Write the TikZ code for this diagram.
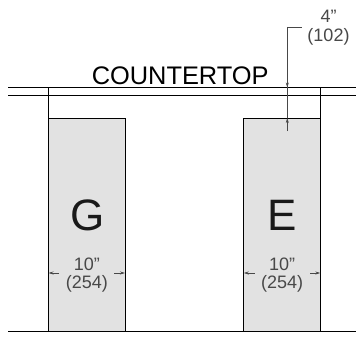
\documentclass[tikz,border=0pt]{standalone}
\usepackage{fontspec}
\setmainfont{Liberation Sans}
\usetikzlibrary{arrows.meta}
\definecolor{boxfill}{HTML}{E2E2E2}
\definecolor{dimink}{HTML}{484848}
\newcommand{\inchmark}{{\char34}}
\tikzset{
  heavy/.style={draw=black,line width=1.2pt},
  cabinet/.style={draw=black,line width=0.9pt,fill=boxfill,minimum width=76.5pt,minimum height=213.5pt,inner sep=0pt,outer sep=0pt,anchor=north west},
  dimline/.style={draw=dimink,line width=0.7pt},
  dimarrow/.style={draw=dimink,line width=0.7pt,-{Stealth[length=5pt,width=3pt]}},
  dimtext/.style={text=dimink,font=\fontsize{18}{18}\selectfont,align=center,inner sep=0pt},
  letter/.style={font=\fontsize{44}{44}\selectfont,text=black!90,inner sep=0pt},
}
\begin{document}
\begin{tikzpicture}[x=1pt,y=-1pt]
\useasboundingbox[fill=white] (0,0) rectangle (356,361);
\node[cabinet] (g) at (48.5,118) {};
\node[cabinet] (e) at (243.8,118) {};
\coordinate (tl) at (8,87.5);
\coordinate (tr) at (356,87.5);
\coordinate (ml) at (8,95);
\coordinate (mr) at (356,95);
\coordinate (bl) at (8,331.7);
\coordinate (br) at (356,331.7);
\draw[heavy] (tl) -- (tr);
\draw[heavy,line width=0.9pt] (ml) -- (mr);
\draw[heavy] (bl) -- (br);
\draw[heavy,line width=0.9pt] (g.north west |- tl) -- (g.north west);
\draw[heavy,line width=0.9pt] (e.north east |- tl) -- (e.north east);
\node[font=\fontsize{25.4}{25}\selectfont,anchor=base,inner sep=0pt] (ct) at (180.2,84.5) {COUNTERTOP};
\node[letter] (G) at (87.5,215) {G};
\node[letter] (E) at (282.5,215) {E};
\node[dimtext] (dg) at (86.8,275.5) {10\inchmark\\(254)};
\node[dimtext] (de) at (282.2,275.5) {10\inchmark\\(254)};
\node[dimtext] (dt) at (328.5,28) {4\inchmark\\[1pt](102)};
\coordinate (kn) at (287.3,27);
\coordinate (ke) at (301.7,27);
\coordinate (ka) at (287.3,87.5);
\coordinate (ks) at (287.3,131);
\coordinate (kb) at (287.3,118);
\draw[dimline] (ke) -- (kn) -- (ka);
\draw[dimarrow] (kn) -- (ka);
\draw[dimline] (ka) -- (kb);
\draw[dimarrow] (ks) -- (kb);
\coordinate (a1) at (59,273);
\coordinate (a2) at (114,273);
\coordinate (a3) at (254.5,273);
\coordinate (a4) at (310,273);
\draw[dimarrow] (a1) -- (a1 -| g.west);
\draw[dimarrow] (a2) -- (a2 -| g.east);
\draw[dimarrow] (a3) -- (a3 -| e.west);
\draw[dimarrow] (a4) -- (a4 -| e.east);
\end{tikzpicture}
\end{document}
